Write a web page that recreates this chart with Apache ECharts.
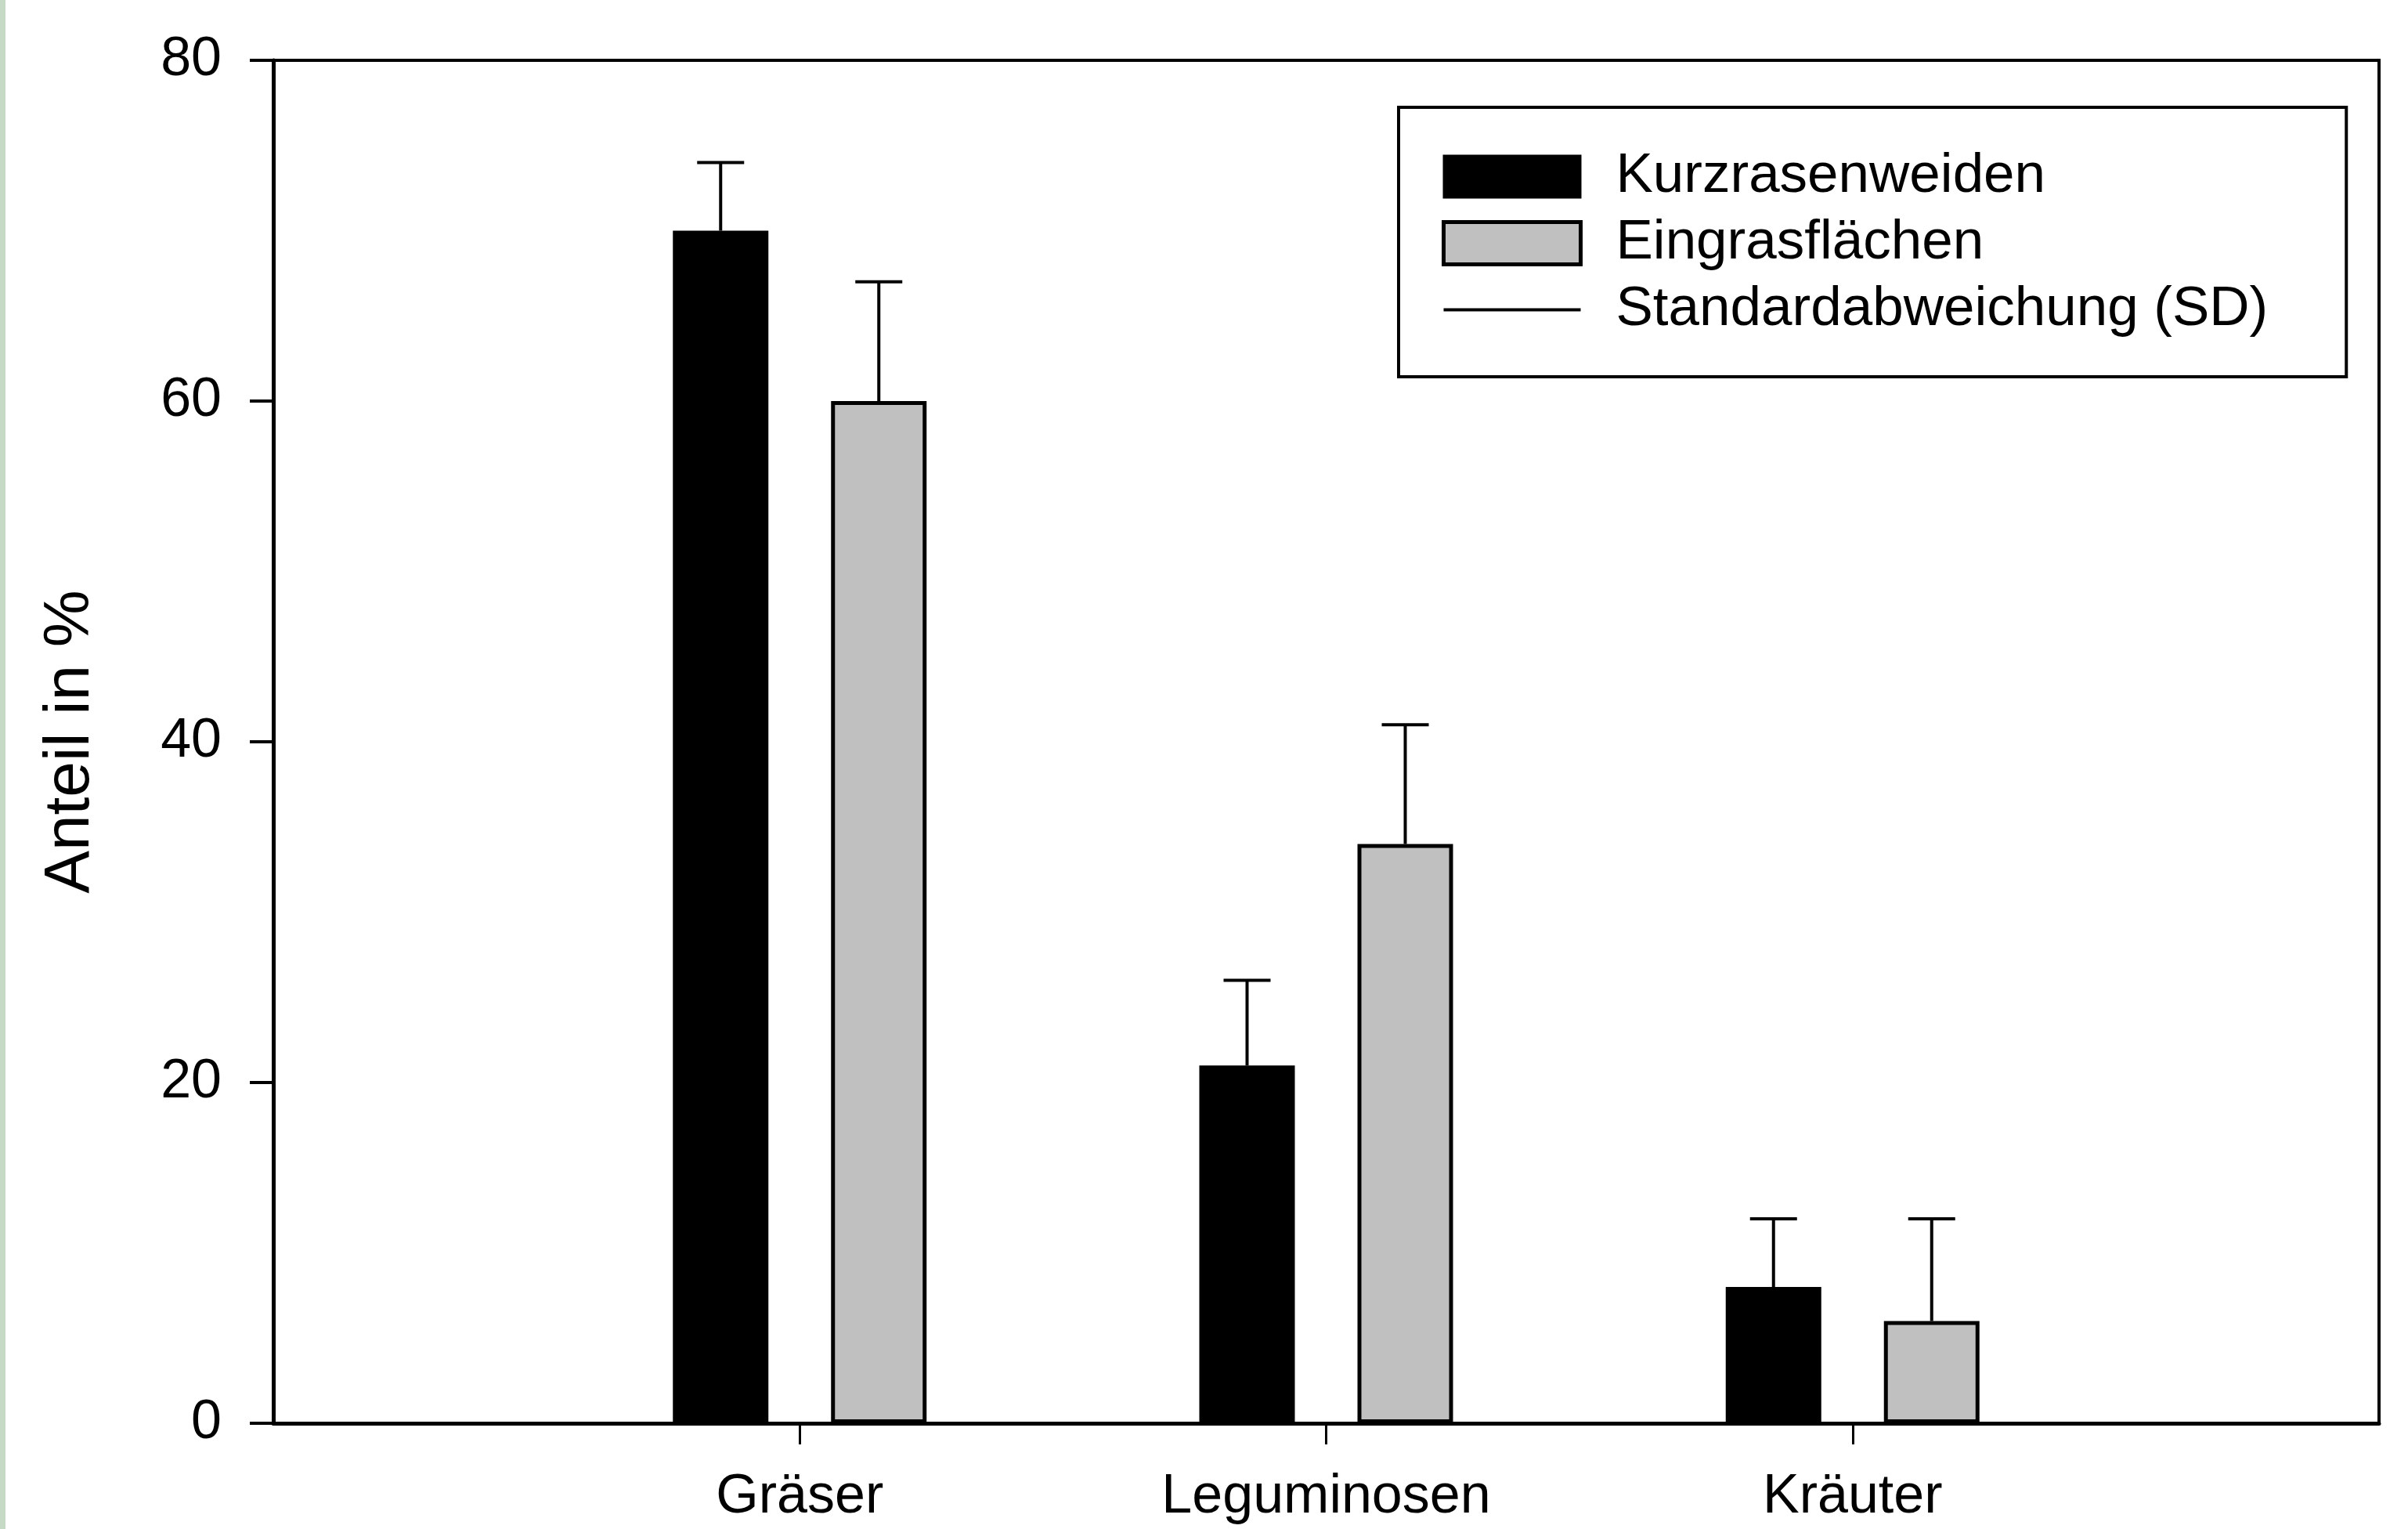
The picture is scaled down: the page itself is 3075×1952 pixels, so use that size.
<!DOCTYPE html>
<html>
<head>
<meta charset="utf-8">
<script src="https://cdn.jsdelivr.net/npm/echarts@6/dist/echarts.min.js"></script>
<style>
	html, body { margin: 0; padding: 0; background: #fff; }
	#chart { width: 3075px; height: 1952px; }
</style>
</head>
<body>
<div id="chart"></div>
<script>
// categories (empty slots at both ends leave the room the original axis has)
var categories = ['', 'Gräser', 'Leguminosen', 'Kräuter', ''];
var groups = ['Gräser', 'Leguminosen', 'Kräuter'];
var kurzrasen = [70, 21, 8];
var kurzrasenSD = [4, 5, 4];
var eingras = [60, 34, 6];
var eingrasSD = [7, 7, 6];
var yTicks = [0, 20, 40, 60, 80];

var barW = 122;
var barGapPx = 80;
var barShift = (barW + barGapPx) / 2;

var chart = echarts.init(document.getElementById('chart'));

var errData = [];
groups.forEach(function(g, i) {
	errData.push([i + 1, kurzrasen[i], kurzrasenSD[i], 0]);
	errData.push([i + 1, eingras[i], eingrasSD[i], 1]);
});

var font = 'Liberation Sans, Arial, Helvetica, sans-serif';

option = {
	backgroundColor: '#fff',
	animation: false,
	textStyle: { fontFamily: font, color: '#000' },
	graphic: [{
		type: 'rect',
		left: 0, top: 0,
		shape: { width: 7, height: 1952 },
		style: { fill: '#c6d9c4' }
	}],
	grid: {
		left: 349, right: 37, top: 77, bottom: 135,
		show: true,
		borderColor: '#000',
		borderWidth: 4
	},
	legend: {
		orient: 'vertical',
		left: 1786,
		top: 137,
		padding: [53, 100, 50, 55],
		itemWidth: 175,
		itemHeight: 54,
		itemGap: 14,
		borderColor: '#000',
		borderWidth: 4,
		backgroundColor: '#fff',
		textStyle: {
			fontFamily: font,
			fontSize: 71,
			color: '#000',
			padding: [0, 0, 0, 40]
		},
		data: [
			{ name: 'Kurzrasenweiden', icon: 'rect' },
			{ name: 'Eingrasflächen', icon: 'rect', itemStyle: { color: '#c0c0c0', borderColor: '#000', borderWidth: 5 } },
			{ name: 'Standardabweichung (SD)', icon: 'path://M0,0H175V4H0Z' }
		]
	},
	xAxis: {
		type: 'category',
		data: categories,
		boundaryGap: false,
		axisLine: { lineStyle: { color: '#000', width: 5 } },
		axisTick: {
			show: true,
			length: 27,
			interval: function(index) { return index >= 1 && index <= 3; },
			lineStyle: { color: '#000', width: 3 }
		},
		axisLabel: {
			interval: 0,
			margin: 60,
			fontSize: 70,
			fontFamily: font,
			color: '#000'
		},
		splitLine: { show: false }
	},
	yAxis: {
		type: 'value',
		min: yTicks[0],
		max: yTicks[yTicks.length - 1],
		interval: 20,
		name: 'Anteil in %',
		nameLocation: 'middle',
		nameGap: 218,
		nameTextStyle: { fontSize: 82, fontFamily: font, color: '#000' },
		axisLine: { show: true, lineStyle: { color: '#000', width: 5 } },
		axisTick: { show: true, length: 30, lineStyle: { color: '#000', width: 4 } },
		axisLabel: { margin: 66, fontSize: 70, fontFamily: font, color: '#000' },
		splitLine: { show: false }
	},
	series: [{
		name: 'Kurzrasenweiden',
		type: 'bar',
		barWidth: barW,
		barGap: (barGapPx / barW * 100) + '%',
		itemStyle: { color: '#000', borderColor: '#000', borderWidth: 5 },
		data: kurzrasen.map(function(v, i) { return [i + 1, v]; })
	}, {
		name: 'Eingrasflächen',
		type: 'bar',
		barWidth: barW,
		barGap: (barGapPx / barW * 100) + '%',
		itemStyle: { color: '#c0c0c0', borderColor: '#000', borderWidth: 5 },
		data: eingras.map(function(v, i) { return [i + 1, v]; })
	}, {
		name: 'Standardabweichung (SD)',
		type: 'custom',
		itemStyle: { color: '#000' },
		z: 3,
		renderItem: function(params, api) {
			var idx = api.value(0);
			var mean = api.value(1);
			var sd = api.value(2);
			var grp = api.value(3);
			var base = api.coord([idx, mean]);
			var top = api.coord([idx, mean + sd]);
			var x = base[0] + (grp === 0 ? -barShift : barShift);
			return {
				type: 'group',
				children: [{
					type: 'line',
					shape: { x1: x, y1: base[1], x2: x, y2: top[1] },
					style: { stroke: '#000', lineWidth: 4 }
				}, {
					type: 'line',
					shape: { x1: x - 30, y1: top[1], x2: x + 30, y2: top[1] },
					style: { stroke: '#000', lineWidth: 4 }
				}]
			};
		},
		data: errData
	}]
};

chart.setOption(option);

window.onresize = function() {
	chart.resize();
};
</script>
</body>
</html>
